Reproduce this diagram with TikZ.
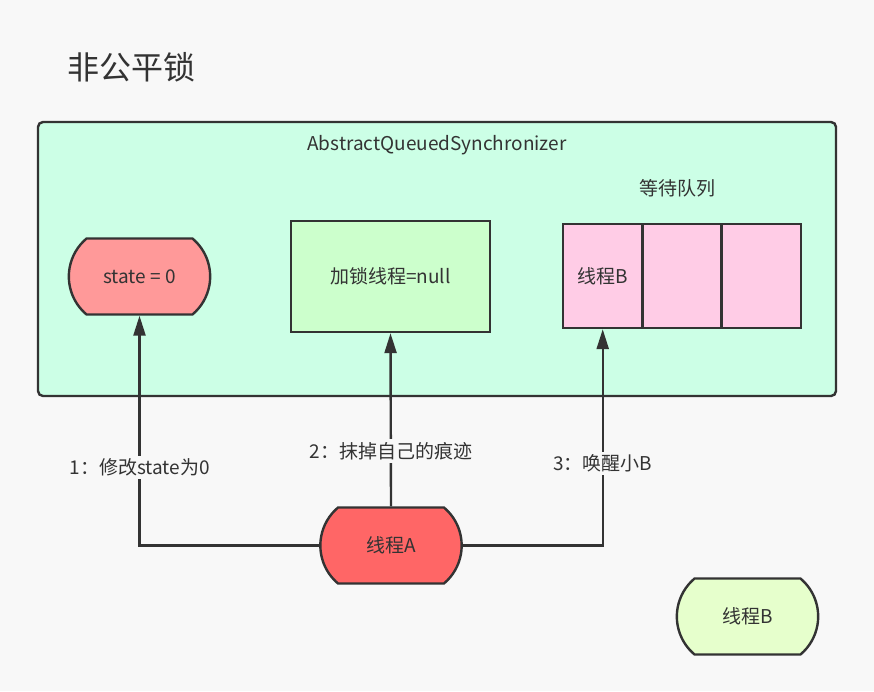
\documentclass[tikz,border=0pt]{standalone}
\usepackage{fontspec}
\setmainfont{Noto Sans CJK SC}
\usetikzlibrary{arrows.meta,shapes.misc}
\definecolor{bg}{HTML}{F8F8F8}
\definecolor{edge}{HTML}{333333}
\definecolor{txt}{HTML}{333333}
\definecolor{aqsfill}{HTML}{CCFFE6}
\definecolor{statefill}{HTML}{FF9999}
\definecolor{holdfill}{HTML}{CCFFCC}
\definecolor{queuefill}{HTML}{FFCCE6}
\definecolor{afill}{HTML}{FF6666}
\definecolor{bfill}{HTML}{E6FFCC}
\begin{document}
\begin{tikzpicture}[x=1pt, y=-1pt, line width=2.4pt,
	every node/.style={ text=txt, font=\fontsize{19}{22}\selectfont },
	pill/.style={ rounded rectangle, rounded rectangle arc length=100, draw=edge, minimum width=148pt, minimum height=76pt },
	cell/.style={ rectangle, draw=edge, fill=queuefill, minimum width=79.3pt, minimum height=104pt },
	link/.style={ draw=edge, -{Triangle[length=20pt, width=12pt]} },
	lbl/.style={ fill=bg, inner sep=3pt } ]
		\fill[bg] (0,0) rectangle (874,691);

		\node[anchor=west, font=\fontsize{32}{36}\selectfont] (title) at (63,67) {非公平锁};

		\node[draw=edge, fill=aqsfill, rounded corners=5pt, minimum width=798pt, minimum height=274pt] (aqs) at (437,259) {};
		\node (aqsname) at (437,145) {AbstractQueuedSynchronizer};

		\node[pill, fill=statefill] (state) at (139.5,276.5) {state = 0};
		\node[draw=edge, fill=holdfill, minimum width=199pt, minimum height=111pt] (hold) at (390.5,276.5) {加锁线程=null};

		\node (queuename) at (677,188) {等待队列};
		\node[cell] (q1) at (602.7,276) {线程B};
		\node[cell] (q2) at (682,276) {};
		\node[cell] (q3) at (761.3,276) {};

		\node[pill, fill=afill] (thA) at (391,545.5) {线程A};
		\node[pill, fill=bfill] (thB) at (747.5,616.5) {线程B};

		\draw[link] (thA.west) -| node[lbl, pos=0.67] {1：修改state为0} (state.south);
		\draw[link] (thA.north) -- node[lbl, pos=0.32] {2：抹掉自己的痕迹} (hold.south);
		\draw[link] (thA.east) -| node[lbl, pos=0.69] {3：唤醒小B} (q1.south);
	\end{tikzpicture}
\end{document}
